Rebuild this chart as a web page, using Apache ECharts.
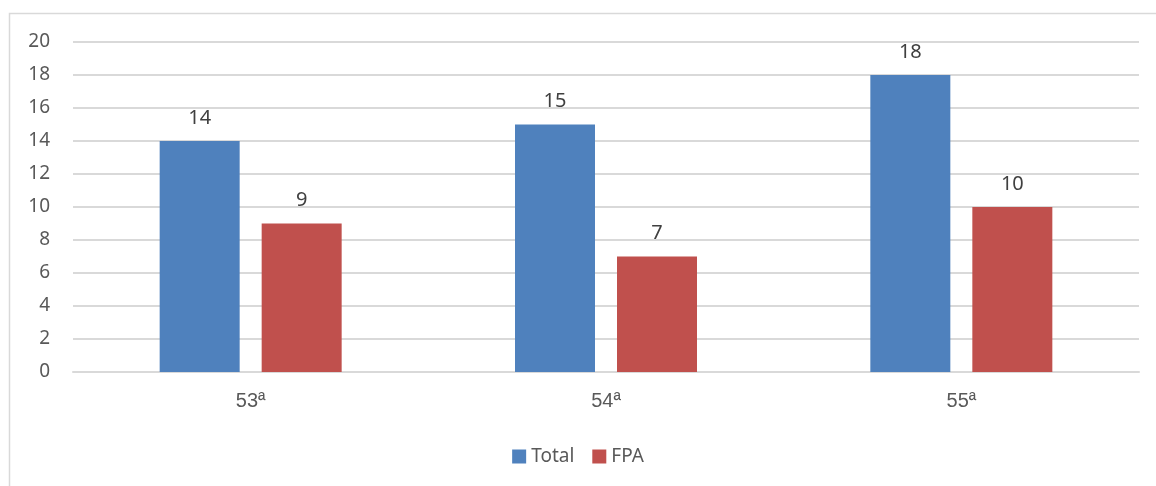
<!DOCTYPE html>
<html>
<head>
<meta charset="utf-8">
<script src="https://cdn.jsdelivr.net/npm/echarts@6/dist/echarts.min.js"></script>
<style>
  html, body { margin: 0; padding: 0; background: #fff; }
  #main { width: 1156px; height: 486px; }
</style>
</head>
<body>
<div id="main"></div>
<script>
var categories = ['53ª', '54ª', '55ª'];
var totalValues = [14, 15, 18];
var fpaValues = [9, 7, 10];

var myChart = echarts.init(document.getElementById('main'));

var labelStyle = {
    show: true,
    position: 'top',
    distance: 13,
    color: '#404040',
    fontSize: 20,
    fontFamily: 'Noto Sans'
};

var option = {
    backgroundColor: '#fff',
    animation: false,
    graphic: [{
        type: 'rect',
        shape: { x: 9.5, y: 13.5, width: 1200, height: 600 },
        style: { fill: 'none', stroke: '#d9d9d9', lineWidth: 1.5 },
        silent: true
    }],
    grid: {
        left: 73,
        right: 17,
        top: 42,
        bottom: 114
    },
    legend: {
        data: ['Total', 'FPA'],
        bottom: 15,
        left: 'center',
        icon: 'rect',
        itemWidth: 14,
        itemHeight: 14,
        itemGap: 18,
        textStyle: { color: '#595959', fontSize: 19, fontFamily: 'Noto Sans' }
    },
    xAxis: {
        type: 'category',
        data: categories,
        axisLine: { lineStyle: { color: '#d9d9d9', width: 2 } },
        axisTick: { show: false },
        // Liberation Sans draws the ordinal "ª" with its underline
        axisLabel: { color: '#595959', fontSize: 20, fontFamily: 'Liberation Sans', margin: 19 }
    },
    yAxis: {
        type: 'value',
        min: 0,
        max: 20,
        interval: 2,
        axisLine: { show: false },
        axisTick: { show: false },
        axisLabel: { color: '#595959', fontSize: 19, fontFamily: 'Noto Sans', margin: 23 },
        splitLine: { lineStyle: { color: '#d9d9d9', width: 2 } }
    },
    series: [{
        name: 'Total',
        type: 'bar',
        data: totalValues,
        barWidth: 80,
        barGap: '27.5%',
        itemStyle: { color: '#4F81BD' },
        label: labelStyle
    }, {
        name: 'FPA',
        type: 'bar',
        data: fpaValues,
        barWidth: 80,
        itemStyle: { color: '#C0504D' },
        label: labelStyle
    }]
};

myChart.setOption(option);
</script>
</body>
</html>
